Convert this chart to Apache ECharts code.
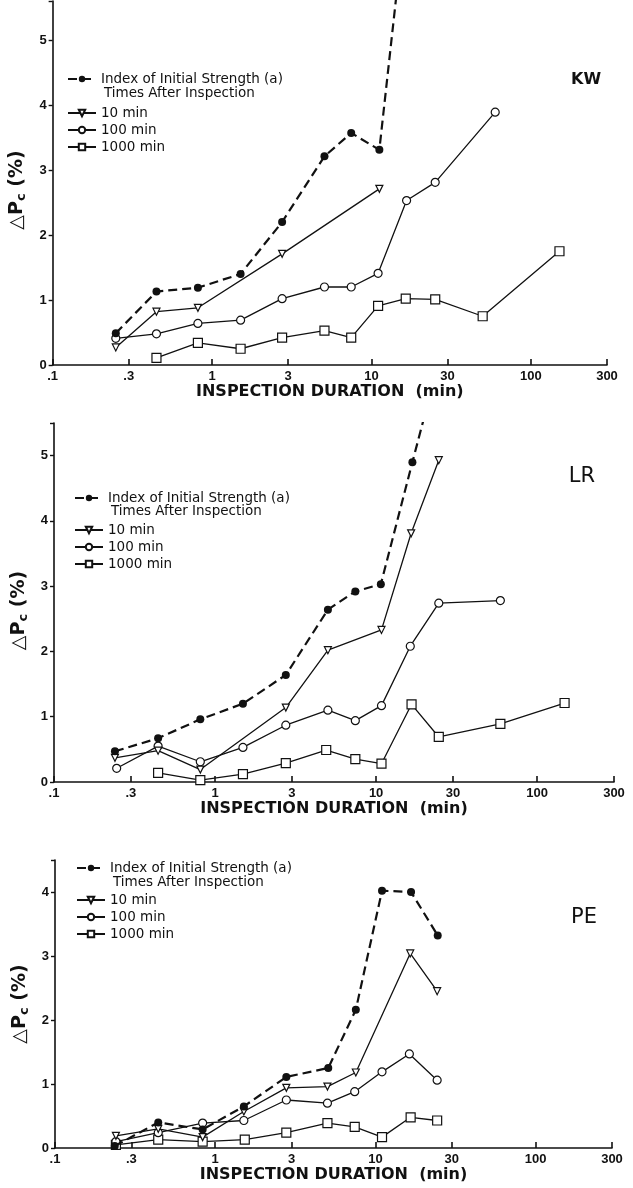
<!DOCTYPE html>
<html>
<head>
<meta charset="utf-8">
<script src="https://cdn.jsdelivr.net/npm/echarts@6.0.0/dist/echarts.min.js"></script>
<style>
  html, body { margin: 0; padding: 0; background: #fff; }
  #chart { width: 633px; height: 1188px; }
</style>
</head>
<body>
<div id="chart"></div>
<script>
// tick labels of the log duration axis
const tickValues = [0.1, 0.3, 1, 3, 10, 30, 100, 300];
const tickLabels = ['.1', '.3', '1', '3', '10', '30', '100', '300'];

const seriesNames = ['Index of Initial Strength (a)', '10 min', '100 min', '1000 min'];
const panelNames = ['KW', 'LR', 'PE'];

// KW  [inspection duration (min), delta Pc (%)]
const kwIndex = [[0.249, 0.49], [0.448, 1.13], [0.815, 1.19], [1.51, 1.40], [2.75, 2.20], [5.07, 3.21], [7.46, 3.57], [11.2, 3.31], [14.8, 6.0]];
const kw10 = [[0.249, 0.27], [0.448, 0.82], [0.815, 0.88], [2.75, 1.71], [11.2, 2.71]];
const kw100 = [[0.249, 0.41], [0.448, 0.48], [0.815, 0.64], [1.51, 0.69], [2.75, 1.02], [5.07, 1.20], [7.46, 1.20], [11.0, 1.41], [16.6, 2.53], [25.1, 2.81], [59.7, 3.89]];
const kw1000 = [[0.448, 0.11], [0.815, 0.34], [1.51, 0.25], [2.75, 0.42], [5.07, 0.53], [7.46, 0.42], [11.0, 0.91], [16.4, 1.02], [25.1, 1.01], [49.8, 0.75], [151, 1.75]];

// LR
const lrIndex = [[0.239, 0.47], [0.443, 0.67], [0.81, 0.96], [1.49, 1.20], [2.75, 1.64], [5.02, 2.64], [7.43, 2.92], [10.7, 3.03], [16.8, 4.90], [22, 6.0]];
const lr10 = [[0.239, 0.37], [0.443, 0.48], [0.81, 0.19], [2.75, 1.14], [5.02, 2.02], [10.8, 2.33], [16.5, 3.81], [24.5, 4.93]];
const lr100 = [[0.245, 0.21], [0.443, 0.55], [0.81, 0.31], [1.49, 0.53], [2.75, 0.87], [5.02, 1.10], [7.43, 0.94], [10.8, 1.17], [16.3, 2.08], [24.5, 2.74], [59.1, 2.78]];
const lr1000 = [[0.443, 0.14], [0.81, 0.03], [1.49, 0.12], [2.75, 0.29], [4.9, 0.49], [7.43, 0.35], [10.8, 0.28], [16.6, 1.19], [24.5, 0.69], [59.1, 0.89], [148, 1.21]];

// PE
const peIndex = [[0.236, 0.03], [0.441, 0.40], [0.835, 0.29], [1.51, 0.65], [2.78, 1.11], [5.08, 1.25], [7.55, 2.16], [11.0, 4.02], [16.7, 4.00], [24.5, 3.32]];
const pe10 = [[0.24, 0.19], [0.441, 0.30], [0.835, 0.17], [1.51, 0.57], [2.78, 0.94], [5.02, 0.96], [7.55, 1.18], [16.5, 3.04], [24.3, 2.45]];
const pe100 = [[0.24, 0.10], [0.441, 0.24], [0.835, 0.39], [1.51, 0.43], [2.78, 0.75], [5.02, 0.70], [7.43, 0.88], [11.0, 1.19], [16.3, 1.47], [24.3, 1.06]];
const pe1000 = [[0.24, 0.05], [0.441, 0.13], [0.835, 0.10], [1.53, 0.13], [2.78, 0.24], [5.02, 0.39], [7.43, 0.33], [11.0, 0.17], [16.6, 0.48], [24.3, 0.43]];

const panelData = [
  [kwIndex, kw10, kw100, kw1000],
  [lrIndex, lr10, lr100, lr1000],
  [peIndex, pe10, pe100, pe1000]
];
const yMax = [5.6, 5.5, 4.5];

const ink = '#111';
const font = 'DejaVu Sans';

// grid boxes, one per panel
const grids = [
  { left: 50, top: 1, width: 557, height: 364 },
  { left: 54, top: 423, width: 560, height: 359 },
  { left: 55, top: 860, width: 557, height: 288 }
];
const legendPos = [
  { left: 67, a: 72, text: 94, b: 106 },
  { left: 74, a: 491, text: 512, b: 523 },
  { left: 76, a: 861, text: 883, b: 893 }
];
const yNameShift = [14, 16, 0];
const panelLabelPos = [[586, 80, 16, 'bold'], [582, 477, 21, 'normal'], [584, 918, 21, 'normal']];

const logTicks = tickValues.map(v => Math.log10(v));
function tickName(v) {
  const i = logTicks.findIndex(t => Math.abs(t - v) < 1e-6);
  return i < 0 ? '' : tickLabels[i];
}

const styles = [
  { symbol: 'circle', symbolSize: 8, itemStyle: { color: ink }, lineStyle: { color: ink, width: 2.2, type: [9, 5] } },
  { symbol: 'triangle', symbolRotate: 180, symbolSize: 7, itemStyle: { color: '#fff', borderColor: ink, borderWidth: 1.2 }, lineStyle: { color: ink, width: 1.3 } },
  { symbol: 'circle', symbolSize: 8, itemStyle: { color: '#fff', borderColor: ink, borderWidth: 1.2 }, lineStyle: { color: ink, width: 1.3 } },
  { symbol: 'rect', symbolSize: 9, itemStyle: { color: '#fff', borderColor: ink, borderWidth: 1.2 }, lineStyle: { color: ink, width: 1.3 } }
];

const xAxes = [], yAxes = [], series = [], legends = [], graphics = [];

grids.forEach((g, i) => {
  // log axis that carries the data
  xAxes.push({
    type: 'log', gridIndex: i, min: 0.1, max: 300,
    axisLine: { onZero: false, lineStyle: { color: ink, width: 1.6 } },
    axisTick: { show: false }, axisLabel: { show: false }, splitLine: { show: false }
  });
  // same range in log units, only for the .1 .3 1 3 ... ticks and labels
  xAxes.push({
    type: 'value', gridIndex: i, min: -1, max: Math.log10(300), position: 'bottom',
    axisLine: { show: false, onZero: false },
    axisTick: { show: true, inside: true, length: 6, customValues: logTicks, lineStyle: { color: ink, width: 1.6 } },
    axisLabel: { customValues: logTicks, formatter: tickName, color: ink, fontSize: 13, fontWeight: 'bold', fontFamily: 'Liberation Sans', margin: 5 },
    splitLine: { show: false },
    name: 'INSPECTION DURATION  (min)', nameLocation: 'middle', nameGap: 16,
    nameTextStyle: { color: ink, fontSize: 16, fontWeight: 'bold', fontFamily: font }
  });
  yAxes.push({
    type: 'value', gridIndex: i, min: 0, max: yMax[i], interval: 1,
    axisLine: { show: true, onZero: false, lineStyle: { color: ink, width: 1.6 } },
    axisTick: { show: true, length: 4, lineStyle: { color: ink, width: 1.4 } },
    axisLabel: { formatter: v => (Number.isInteger(v) ? String(v) : ''), color: ink, fontSize: 13, fontWeight: 'bold', fontFamily: 'Liberation Sans', margin: 6 },
    splitLine: { show: false },
    name: '{a|△P}{b|c}{a| (%)}', nameLocation: 'middle', nameRotate: 90, nameGap: 20,
    nameTextStyle: {
      padding: [0, yNameShift[i], 0, 0],
      rich: {
        a: { fontSize: 19, fontWeight: 'bold', color: ink, fontFamily: font, lineHeight: 22 },
        b: { fontSize: 13, fontWeight: 'bold', color: ink, fontFamily: font, lineHeight: 10, verticalAlign: 'bottom' }
      }
    }
  });

  panelData[i].forEach((d, k) => {
    series.push(Object.assign({
      name: seriesNames[k], type: 'line', xAxisIndex: 2 * i, yAxisIndex: i,
      data: d, clip: true, z: 4 - k, animation: false
    }, styles[k]));
  });

  const lp = legendPos[i];
  legends.push({
    left: lp.left, top: lp.a, orient: 'vertical', itemWidth: 28, itemHeight: 8, padding: 0,
    data: [seriesNames[0]], selectedMode: false,
    textStyle: { color: ink, fontSize: 13.5, fontFamily: font }
  });
  legends.push({
    left: lp.left, top: lp.b, orient: 'vertical', itemWidth: 28, itemHeight: 8, itemGap: 3, padding: 0,
    data: seriesNames.slice(1), selectedMode: false,
    textStyle: { color: ink, fontSize: 13.5, fontFamily: font }
  });
  graphics.push({
    type: 'text', left: lp.left + 37, top: lp.text - 8,
    style: { text: 'Times After Inspection', fill: ink, font: '13.5px "DejaVu Sans"' }
  });
  const pl = panelLabelPos[i];
  graphics.push({
    type: 'text', x: pl[0], y: pl[1],
    style: { text: panelNames[i], fill: ink, font: pl[3] + ' ' + pl[2] + 'px "DejaVu Sans"', align: 'center', verticalAlign: 'middle' }
  });
});

const chart = echarts.init(document.getElementById('chart'), null, { renderer: 'canvas' });
chart.setOption({
  animation: false,
  backgroundColor: '#fff',
  grid: grids,
  xAxis: xAxes,
  yAxis: yAxes,
  legend: legends,
  graphic: graphics,
  series: series
});
</script>
</body>
</html>
